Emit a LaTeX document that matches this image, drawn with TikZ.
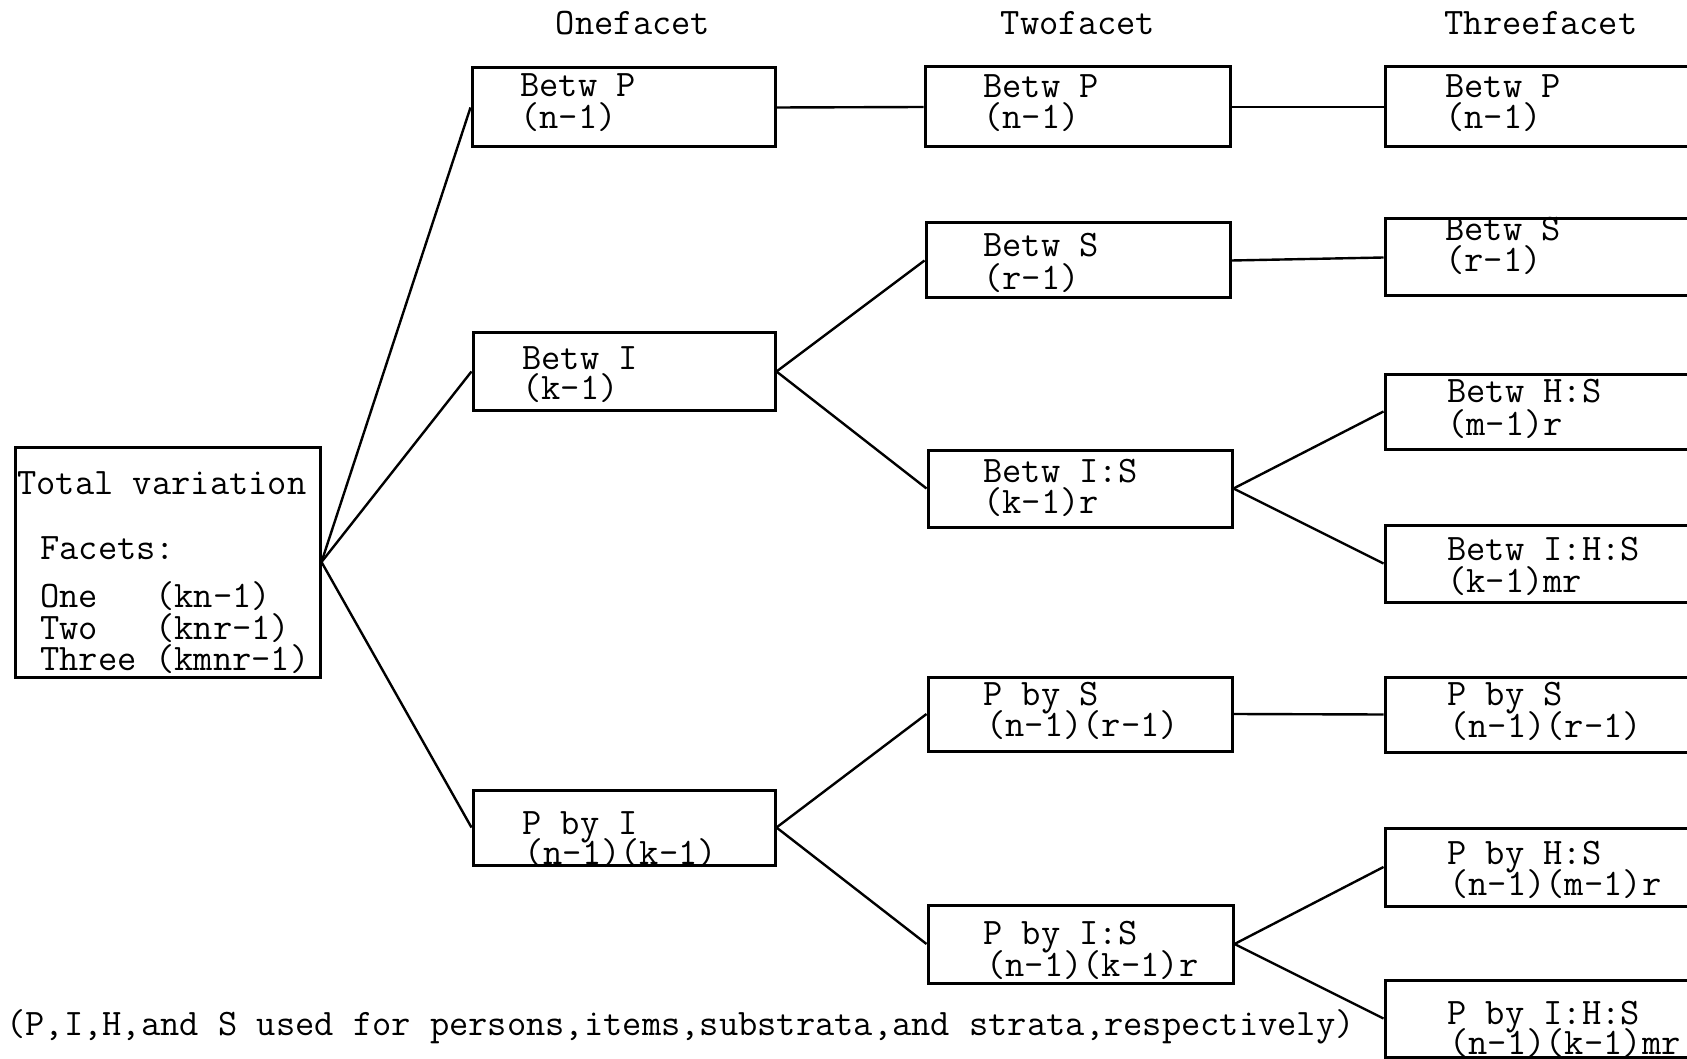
\documentclass[tikz,border=0pt]{standalone}
\usepackage{fontspec}
\usetikzlibrary{fit}
\newcommand\tw{\ttfamily\fontsize{18.7}{16}\selectfont\addfontfeatures{FakeBold=2.2}}
\tikzset{
  box/.style={draw, line width=1.5pt, inner sep=0pt, rectangle},
  conn/.style={line width=1.2pt},
  txt/.style={anchor=base west, inner sep=0pt, font=\tw},
  head/.style={anchor=base, inner sep=0pt, font=\tw}
}
% a box with its first typed line: name, x1, y1, x2, y2, text x, baseline, (unused), text
\newcommand\tbox[9]{%
  \node[box, fit={(#2,#3)(#4,#5)}] (#1) {};
  \node[txt] (#1a) at (#6,#7) {#9};
}
% second typed line of a box: name, text x, baseline, text
\newcommand\tsecond[4]{\node[txt] (#1b) at (#2,#3) {#4};}
\begin{document}
\begin{tikzpicture}[x=0.5pt, y=-0.5pt]
\clip (0,0) rectangle (1687,1059);
\fill[white] (0,0) rectangle (1687,1059);

% column heads
\node[head] (h1) at (633,35) {Onefacet};
\node[head] (h2) at (1078,35) {Twofacet};
\node[head] (h3) at (1541,35) {Threefacet};

% total variation box
\node[box, fit={(15,447)(320,677)}] (T) {};
\node[txt] (Tt) at (17,494) {Total variation};
\node[txt] (Tf) at (40,559) {Facets:};
\node[txt] (T1) at (40,607) {One};
\node[txt] (T2) at (40,639) {Two};
\node[txt] (T3) at (40,670) {Three};
\node[txt] (T1v) at (155,607) {(kn-1)};
\node[txt] (T2v) at (155,639) {(knr-1)};
\node[txt] (T3v) at (155,670) {(kmnr-1)};

% one facet
\tbox{A1}{472}{68}{775}{147}{520}{97}{}{Betw P}  \tsecond{A1}{520}{129}{(n-1)}
\tbox{A2}{473}{333}{775}{410}{522}{370}{}{Betw I} \tsecond{A2}{522}{400}{(k-1)}
\tbox{A3}{473}{790}{775}{865}{522}{834}{}{P by I} \tsecond{A3}{524}{864}{(n-1)(k-1)}

% two facets
\tbox{B1}{925}{67}{1230}{147}{983}{98}{}{Betw P}     \tsecond{B1}{983}{129}{(n-1)}
\tbox{B2}{926}{223}{1230}{298}{983}{257}{}{Betw S}   \tsecond{B2}{983}{290}{(r-1)}
\tbox{B3}{928}{450}{1232}{527}{983}{482}{}{Betw I:S} \tsecond{B3}{983}{513}{(k-1)r}
\tbox{B4}{928}{677}{1232}{751}{983}{705}{}{P by S}   \tsecond{B4}{986}{736}{(n-1)(r-1)}
\tbox{B5}{928}{905}{1233}{983}{983}{944}{}{P by I:S} \tsecond{B5}{986}{976}{(n-1)(k-1)r}

% three facets
\tbox{C1}{1385}{67}{1705}{147}{1445}{98}{}{Betw P}       \tsecond{C1}{1445}{129}{(n-1)}
\tbox{C2}{1385}{219}{1705}{296}{1445}{241}{}{Betw S}     \tsecond{C2}{1445}{272}{(r-1)}
\tbox{C3}{1385}{374}{1705}{449}{1447}{402}{}{Betw H:S}   \tsecond{C3}{1447}{435}{(m-1)r}
\tbox{C4}{1385}{525}{1705}{602}{1447}{560}{}{Betw I:H:S} \tsecond{C4}{1447}{592}{(k-1)mr}
\tbox{C5}{1385}{677}{1705}{752}{1447}{705}{}{P by S}     \tsecond{C5}{1449}{737}{(n-1)(r-1)}
\tbox{C6}{1385}{828}{1705}{906}{1447}{864}{}{P by H:S}   \tsecond{C6}{1449}{895}{(n-1)(m-1)r}
\tbox{C7}{1385}{980}{1705}{1057}{1447}{1024}{}{P by I:H:S} \tsecond{C7}{1449}{1054}{(n-1)(k-1)mr}

% connectors
\draw[conn] (T.east) -- (A1.west);
\draw[conn] (T.east) -- (A2.west);
\draw[conn] (T.east) -- (A3.west);
\draw[conn] (A1.east) -- (B1.west);
\draw[conn] (A2.east) -- (B2.west);
\draw[conn] (A2.east) -- (B3.west);
\draw[conn] (A3.east) -- (B4.west);
\draw[conn] (A3.east) -- (B5.west);
\draw[conn] (B1.east) -- (C1.west);
\draw[conn] (B2.east) -- (C2.west);
\draw[conn] (B3.east) -- (C3.west);
\draw[conn] (B3.east) -- (C4.west);
\draw[conn] (B4.east) -- (C5.west);
\draw[conn] (B5.east) -- (C6.west);
\draw[conn] (B5.east) -- (C7.west);

% footnote
\node[txt] (note) at (6,1035) {(P,I,H,and S used for persons,items,substrata,and strata,respectively)};
\end{tikzpicture}
\end{document}
